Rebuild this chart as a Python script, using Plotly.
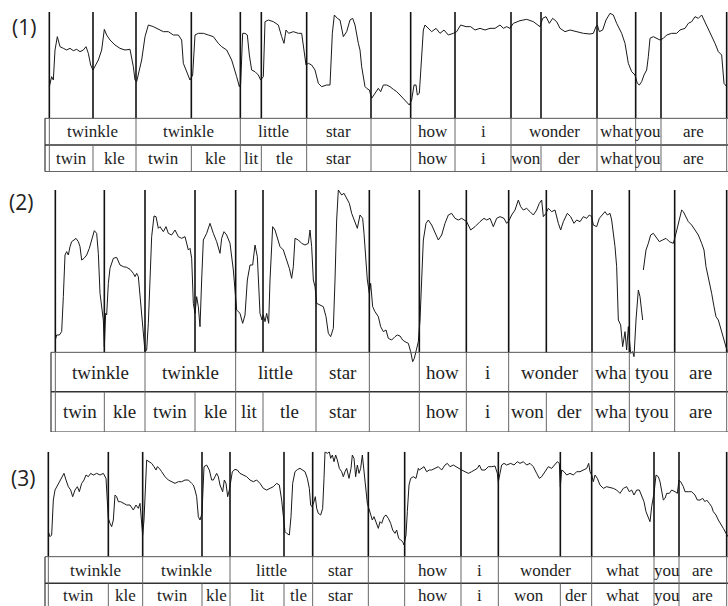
import plotly.graph_objects as go

W, H = 728, 606
T_MAX = 2184  # time axis in frames

# ---------------- Panel (1) ----------------
p1_t = [148,155,160,165,172,180,190,200,210,220,230,240,250,258,265,272,279,285,295,305,313,320,330,345,360,375,390,400,405,410,415,425,435,445,460,475,490,505,520,535,545,550,560,570,578,585,595,610,625,640,655,665,680,695,710,718,722,728,735,742,748,755,765,775,782,790,795,805,820,835,845,852,858,866,880,895,905,912,918,925,935,945,955,965,980,990,997,1003,1012,1020,1030,1040,1050,1058,1065,1075,
        1080,1085,1095,1100,1108,1115,1125,1135,1142,1150,1160,1170,1180,1190,1200,1210,1220,1228,1235,1242,1248,1252,1258,1265,1270,1275,1285,1295,1308,1320,1332,1345,1360,1370,1382,1398,1412,1425,1440,1455,1470,1485,1500,1510,1520,1530,1540,1560,1580,1600,1620,1628,1638,1648,1658,1670,1680,1695,1710,1730,1750,1770,1780,1788,1792,1798,1808,1818,1830,1840,1850,1865,1875,1885,1895,1905,1912,1918,1925,1932,1940,1945,1950,1960,1970,1980,1990,2000,2015,2030,2040,2055,2065,2075,2085,2095,2105,2115,2125,2135,2145,2155,2165,2172,2180]
p1_v = [95,125,115,205,245,215,210,205,210,203,207,200,205,215,195,160,145,155,175,205,267,250,235,220,210,205,207,155,115,110,135,175,245,280,275,267,260,260,250,250,235,165,140,115,130,250,255,255,250,245,225,215,205,175,125,95,105,255,255,250,190,145,140,130,115,125,290,295,290,280,245,225,265,255,260,255,255,195,160,165,160,145,105,95,100,100,255,310,300,295,245,260,295,300,280,225,
        205,155,95,90,85,60,75,90,80,100,100,95,87,80,70,60,50,40,55,100,100,70,75,205,265,280,270,260,270,255,265,250,255,260,280,275,275,265,270,265,270,270,280,270,275,270,285,293,297,290,275,300,305,285,300,290,270,260,265,260,255,253,255,275,280,260,265,295,315,310,285,255,225,165,140,130,105,100,110,130,145,185,240,245,240,235,240,250,255,255,265,270,285,290,305,300,310,290,265,245,225,200,190,105,95]
p1_lines = [148,279,408,574,721,784,920,1113,1232,1365,1533,1623,1791,1907,1983,2180]
p1_word_edges = [148,408,721,920,1113,1232,1365,1533,1791,1907,1983,2180]
p1_words = ["twinkle","twinkle","little","star","","how","i","wonder","what","you","are"]
p1_syl_edges = [148,279,408,574,721,784,920,1113,1232,1365,1533,1623,1791,1907,1983,2180]
p1_syls = ["twin","kle","twin","kle","lit","tle","star","","how","i","won","der","what","you","are"]

# ---------------- Panel (2) ----------------
p2_t = [166,170,178,185,190,195,200,205,210,215,222,228,235,240,245,252,260,268,275,283,290,295,300,305,310,313,317,320,325,330,340,350,360,370,380,390,400,405,410,415,420,425,430,435,440,445,450,455,462,468,475,480,490,498,505,515,525,535,545,555,565,570,575,580,585,590,595,600,605,610,620,630,640,650,660,665,672,680,690,700,705,710,720,728,735,742,750,758,765,772,780,786,790,795,800,806,810,818,825,832,840,850,860,868,875,880,885,895,905,915,925,930,935,940,945,950,960,970,978,985,992,1000,1005,1010,1015,1025,1032,1040,1048,1055,1065,1072,
        1080,1088,1092,1098,1102,1108,1112,1118,1125,1135,1142,1150,1158,1165,1175,1185,1192,1200,1208,1215,1225,1232,1238,1243,1248,1255,1260,1265,1270,1278,1285,1295,1305,1315,1325,1335,1345,1355,1365,1375,1385,1400,1412,1425,1440,1452,1460,1470,1480,1490,1500,1512,1520,1528,1535,1545,1555,1562,1570,1580,1590,1600,1610,1618,1625,1630,1638,1645,1655,1665,1675,1682,1690,1702,1712,1722,1730,1740,1750,1760,1768,1775,1780,1790,1798,1808,1815,1822,1830,1835,1845,1850,1855,1862,1868,1875,1880,1885,1892,1898,1902,1908,1915,1920,1928,None,1930,1938,1945,1952,1960,1970,1978,1988,1998,2008,2020,2028,2038,2045,2050,2058,2065,2075,2085,2095,2105,2112,2118,2125,2135,2142,2148,2155,2165,2175,2182]
p2_v = [37,52,52,62,167,292,302,292,317,332,337,342,332,317,277,282,292,312,337,365,357,297,177,137,97,17,117,112,207,252,282,285,262,257,255,249,237,227,237,227,167,97,47,2,7,87,217,347,409,407,372,377,362,377,357,352,367,347,342,347,307,312,282,147,117,167,137,77,217,337,357,387,357,332,297,342,362,352,327,247,187,127,117,87,112,217,262,262,322,287,117,97,112,92,117,87,217,377,367,342,317,307,277,252,222,257,342,337,327,322,327,367,317,217,197,147,142,137,107,57,47,72,217,397,487,472,477,462,447,417,387,372,
        412,402,357,287,217,177,207,137,122,107,77,62,67,42,37,47,52,49,37,32,27,2,-28,-18,7,32,97,217,337,387,397,382,357,337,352,387,412,417,402,397,402,392,367,377,392,402,397,402,377,402,407,402,387,397,412,427,457,437,427,432,422,412,427,447,457,407,417,432,422,427,387,367,392,417,407,387,397,392,407,402,412,407,382,377,402,412,422,412,417,397,317,257,97,82,17,62,7,77,-3,2,-13,97,187,167,97,None,247,307,327,352,357,342,332,337,342,332,327,357,397,427,422,407,392,382,367,352,327,307,257,227,177,137,107,97,62,27,2]
p2_lines = [166,313,435,585,707,789,948,1108,1258,1399,1526,1639,1776,1888,2024,2180]
p2_word_edges = [166,435,707,948,1108,1258,1399,1526,1776,1888,2024,2180]
p2_words = ["twinkle","twinkle","little","star","","how","i","wonder","wha","tyou","are"]
p2_syl_edges = [166,313,435,585,707,789,948,1108,1258,1399,1526,1639,1776,1888,2024,2180]
p2_syls = ["twin","kle","twin","kle","lit","tle","star","","how","i","won","der","wha","tyou","are"]

# ---------------- Panel (3) ----------------
p3_t = [145,150,155,160,165,170,178,185,192,198,205,212,218,225,232,238,245,252,258,265,272,280,290,300,310,318,322,325,330,335,340,345,350,355,362,370,380,390,400,408,415,420,425,428,432,436,440,447,455,462,468,472,478,485,495,505,515,525,535,545,555,565,575,580,585,590,595,600,606,612,620,628,635,640,645,650,655,660,668,673,678,683,688,692,697,705,712,720,730,740,750,760,770,780,790,800,810,820,830,838,845,850,855,860,868,873,878,885,893,
        900,915,922,928,932,936,942,946,950,955,962,968,972,975,982,988,992,997,1002,1007,1012,1018,1025,1030,1035,1040,1047,1053,1057,1062,1067,1072,1077,1082,1087,1092,1097,1102,1108,1112,1117,1122,1128,1135,1140,1145,1152,1158,1165,1172,1178,1185,1190,1196,1202,1208,1212,1218,1222,1227,1232,1240,1248,1255,
        1258,1265,1272,1280,1288,1295,1305,1315,1325,1335,1342,1350,1360,1370,1380,1385,1395,1405,1415,1425,1432,1438,1445,1455,1465,1475,1485,1492,1495,1500,1505,1512,1520,1532,1542,1552,1560,1570,1580,1590,1600,1610,1618,1625,1635,1645,1655,1665,1672,1678,1681,1685,1692,1700,1710,1720,1730,1740,1750,1760,1766,1770,1775,1780,1785,1792,1800,1810,1820,1830,1840,1850,1860,1870,1880,1888,1895,1902,1910,1918,1925,1932,1938,1945,1950,1955,1962,1968,1975,1980,1985,1990,1995,2000,2008,2015,2025,2032,2037,2042,2050,2055,2065,2075,2085,2092,2100,2108,2115,2120,2128,2135,2140,2148,2155,2162,2170,2178,2184]
p3_v = [75,60,65,170,200,210,225,240,250,230,210,200,180,200,210,195,220,230,245,240,250,245,250,245,250,235,170,115,100,90,110,185,180,165,165,160,155,155,140,155,145,160,90,65,110,220,290,285,280,270,260,270,265,255,240,230,225,220,225,225,230,230,220,215,200,180,120,110,130,270,275,260,230,230,240,250,240,215,195,230,220,180,200,220,255,262,260,250,245,240,230,225,230,220,205,200,205,210,220,215,170,115,75,70,65,120,220,255,262,
        265,255,235,205,155,150,165,180,145,130,125,145,235,315,310,315,295,305,285,305,290,265,255,240,255,265,235,265,305,295,240,275,250,265,305,260,225,160,140,125,110,120,105,85,105,100,120,125,115,100,80,70,80,55,50,45,35,65,135,215,235,240,235,265,
        260,265,270,255,260,260,265,270,260,275,280,270,275,270,265,260,255,250,255,260,265,275,260,260,270,270,272,250,225,250,275,280,275,280,275,285,280,285,275,280,270,250,235,240,255,270,265,275,285,280,210,260,255,245,250,245,255,255,260,265,280,255,245,225,245,235,215,205,210,208,205,200,190,205,210,195,200,185,200,200,180,165,135,120,105,150,190,245,240,225,190,170,175,190,190,200,195,190,230,225,210,195,195,195,185,170,170,175,165,170,160,150,135,125,110,100,85,70,60]
p3_lines = [145,325,428,606,690,852,938,1105,1214,1383,1495,1681,1775,1962,2037,2180]
p3_word_edges = [145,428,690,938,1105,1214,1383,1495,1775,1962,2037,2180]
p3_words = ["twinkle","twinkle","little","star","","how","i","wonder","what","you","are"]
p3_syl_edges = [145,325,428,606,690,852,938,1105,1214,1383,1495,1681,1775,1962,2037,2180]
p3_syls = ["twin","kle","twin","kle","lit","tle","star","","how","i","won","der","what","you","are"]

panel_labels = ["(1)", "(2)", "(3)"]

# ---------------- layout geometry (pixels) ----------------
panels = [
    dict(t=p1_t, v=p1_v, lines=p1_lines, we=p1_word_edges, w=p1_words, se=p1_syl_edges, s=p1_syls,
         top_px=12, yr=[-160, 319], row=[0, -80, -160], tbl_left=135, fs=17, label_xy=(24, 27)),
    dict(t=p2_t, v=p2_v, lines=p2_lines, we=p2_word_edges, w=p2_words, se=p2_syl_edges, s=p2_syls,
         top_px=190, yr=[-239, 487], row=[0, -118, -239], tbl_left=153, fs=19, label_xy=(21, 202)),
    dict(t=p3_t, v=p3_v, lines=p3_lines, we=p3_word_edges, w=p3_words, se=p3_syl_edges, s=p3_syls,
         top_px=451.7, yr=[-148, 315], row=[0, -80, -158], tbl_left=135, fs=17, label_xy=(23, 478)),
]

fig = go.Figure()
shapes = []
annotations = []
layout_axes = {}

for i, p in enumerate(panels, start=1):
    xa = "x" if i == 1 else f"x{i}"
    ya = "y" if i == 1 else f"y{i}"
    xkey = "xaxis" if i == 1 else f"xaxis{i}"
    ykey = "yaxis" if i == 1 else f"yaxis{i}"
    lo, hi = p["yr"]
    span_px = (hi - lo) / 3.0
    d_top = 1 - p["top_px"] / H
    d_bot = max(0.0, 1 - (p["top_px"] + span_px) / H)
    layout_axes[xkey] = dict(range=[0, T_MAX], domain=[0, 1], visible=False, fixedrange=True,
                             anchor=ya)
    layout_axes[ykey] = dict(range=[lo, hi], domain=[d_bot, d_top], visible=False, fixedrange=True,
                             anchor=xa)

    fig.add_trace(go.Scatter(x=p["t"], y=p["v"], mode="lines", xaxis=xa, yaxis=ya,
                             line=dict(color="#1a1a1a", width=1), connectgaps=False,
                             hoverinfo="skip", showlegend=False))

    r0, r1, r2 = p["row"]
    # boundary lines in contour region
    for x in p["lines"]:
        shapes.append(dict(type="line", xref=xa, yref=ya, x0=x, x1=x, y0=r0, y1=hi,
                           line=dict(color="#111111", width=1.6)))
    # table horizontal lines
    for y, c, wdt in [(r0, "#555555", 1), (r1, "#333333", 1.5), (r2, "#333333", 1.2)]:
        shapes.append(dict(type="line", xref=xa, yref=ya, x0=p["tbl_left"], x1=T_MAX, y0=y, y1=y,
                           line=dict(color=c, width=wdt)))
    # table outer left border
    shapes.append(dict(type="line", xref=xa, yref=ya, x0=p["tbl_left"], x1=p["tbl_left"], y0=r0, y1=r2,
                       line=dict(color="#333333", width=1.2)))
    # word row cells
    for x in p["we"]:
        shapes.append(dict(type="line", xref=xa, yref=ya, x0=x, x1=x, y0=r0, y1=r1,
                           line=dict(color="#666666", width=1)))
    for k, lab in enumerate(p["w"]):
        if lab:
            annotations.append(dict(xref=xa, yref=ya, x=(p["we"][k] + p["we"][k + 1]) / 2,
                                    y=(r0 + r1) / 2, text=lab, showarrow=False,
                                    font=dict(family="Liberation Serif", size=p["fs"], color="#222222")))
    # syllable row cells
    for x in p["se"]:
        shapes.append(dict(type="line", xref=xa, yref=ya, x0=x, x1=x, y0=r1, y1=r2,
                           line=dict(color="#666666", width=1)))
    for k, lab in enumerate(p["s"]):
        if lab:
            annotations.append(dict(xref=xa, yref=ya, x=(p["se"][k] + p["se"][k + 1]) / 2,
                                    y=(r1 + r2) / 2 + (4 if i == 3 else 0), text=lab, showarrow=False,
                                    font=dict(family="Liberation Serif", size=p["fs"], color="#222222")))
    lx, ly = p["label_xy"]
    annotations.append(dict(xref="paper", yref="paper", x=lx / W, y=1 - ly / H, text=panel_labels[i - 1],
                            showarrow=False, xanchor="center", yanchor="middle",
                            font=dict(family="Open Sans", size=21, color="#222222")))

fig.update_layout(
    width=W, height=H, autosize=False,
    margin=dict(l=0, r=0, t=0, b=0),
    paper_bgcolor="white", plot_bgcolor="white",
    shapes=shapes, annotations=annotations,
    showlegend=False,
    **layout_axes,
)

fig.write_html("out.html", config=dict(displayModeBar=False),
               post_script="document.body.style.margin='0';document.body.style.padding='0';"
                           "document.body.style.overflow='hidden';")
